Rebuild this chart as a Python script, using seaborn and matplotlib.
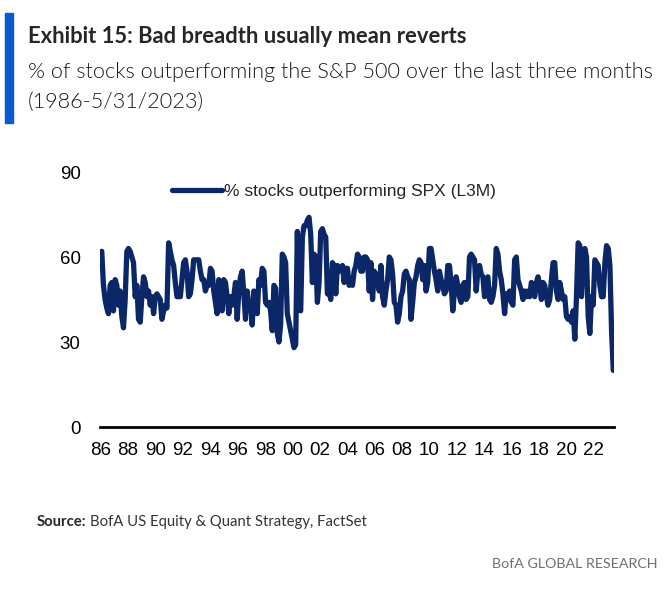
import matplotlib
matplotlib.use("Agg")
import matplotlib.pyplot as plt
import pandas as pd
import seaborn as sns
from matplotlib.patches import Rectangle

# % of stocks outperforming SPX over last 3 months (~every 1.5 months)
pct_outperforming = [
    62, 50, 45, 42, 40, 50, 51, 41, 52, 50,
    43, 48, 39, 35, 45, 62, 63, 62, 60, 58,
    46, 50, 38, 37, 46, 53, 51, 46, 48, 43,
    46, 40, 46, 47, 46, 45, 38, 41, 43, 42,
    65, 62, 59, 57, 51, 46, 46, 46, 52, 58,
    59, 55, 46, 47, 52, 59, 59, 59, 59, 55,
    52, 52, 48, 50, 50, 56, 55, 48, 44, 40,
    52, 48, 41, 52, 51, 46, 40, 46, 43,
    46, 51, 38, 48, 53, 55, 47, 38, 48, 43,
    44, 36, 48, 44, 40, 52, 50, 56, 55, 44,
    43, 44, 41, 34, 50, 49, 33, 30, 36, 61,
    60, 58, 40, 37, 34, 31, 28, 29, 69, 43,
    41, 67, 71, 71, 73, 74, 68, 51, 61, 60,
    44, 51, 69, 70, 68, 67, 47, 48, 45, 58,
    57, 47, 57, 55, 56, 57, 51, 56, 56, 50,
    51, 50, 55, 57, 61, 60, 55, 55,
    60, 60, 59, 48, 58, 45, 55, 54, 52, 48,
    57, 46, 43, 48, 52, 60, 59, 54, 44, 43,
    37, 40, 46, 48, 54, 55, 53, 52, 38, 44,
    51, 53, 57, 59, 58, 52, 57, 48, 51, 63,
    63, 59, 55, 52, 48, 55, 52, 50, 47, 48,
    57, 57, 51, 41, 48, 53, 50, 46, 44, 50,
    51, 45, 46, 60, 61, 60, 59, 48, 55, 57,
    54, 53, 46, 52, 53, 45, 44, 46,
    50, 63, 61, 55, 52, 47, 40, 47, 45, 48,
    44, 43, 59, 60, 52, 50, 48, 45, 48, 46,
    48, 46, 51, 50, 46, 51, 53, 50, 45, 51,
    50, 46, 43, 45, 52, 58, 58, 48, 45, 51,
    48, 45, 46, 39, 38, 39, 37, 41, 31, 46,
    65, 64, 46, 58, 63, 60, 39, 33, 46, 43,
    59, 58, 57, 50, 46, 46, 58, 64, 63, 57,
    34, 20,
]
series_label = "% stocks outperforming SPX (L3M)"
start_date = "1986-01-31"
end_date = "2023-05-31"
tick_years = pd.date_range("1986-01-01", "2022-01-01", freq="2YS")
y_ticks = [0, 30, 60, 90]

df = pd.DataFrame({
    "date": pd.date_range(start_date, end_date, periods=len(pct_outperforming)),
    "pct": pct_outperforming,
})

sns.set_style("white")
plt.rcParams["font.family"] = ["Liberation Sans", "DejaVu Sans"]

W, H = 665, 590
fig = plt.figure(figsize=(W / 100, H / 100), dpi=100)
ax = fig.add_axes([100 / W, 1 - 427 / H, 514 / W, 255 / H])

navy = "#0b2767"
sns.lineplot(data=df, x="date", y="pct", ax=ax, color=navy, linewidth=3.8,
             label=series_label)

ax.set_ylim(0, 90)
ax.set_yticks(y_ticks)
ax.set_xlim(pd.Timestamp("1985-12-15"), pd.Timestamp("2023-06-20"))
ax.set_xticks(tick_years)
ax.set_xticklabels([d.strftime("%y") for d in tick_years])
ax.set_xlabel("")
ax.set_ylabel("")
for side in ["top", "right", "left"]:
    ax.spines[side].set_visible(False)
ax.spines["bottom"].set_linewidth(2)
ax.spines["bottom"].set_color("black")
ax.tick_params(axis="both", length=0, labelsize=13.5, colors="black")
ax.tick_params(axis="x", pad=11)
ax.tick_params(axis="y", pad=14)

leg = ax.legend(loc="center", bbox_to_anchor=(0.455, 0.925), frameon=False,
                fontsize=12.5, handlelength=2.9, handletextpad=0.1)

# header
head_font = ["Lato", "DejaVu Sans"]
fig.patches.append(Rectangle((5 / W, 1 - 123 / H), 8 / W, 110 / H,
                             transform=fig.transFigure, color="#0a5bd3"))
fig.text(28 / W, 1 - 43 / H, "Exhibit 15: Bad breadth usually mean reverts",
         fontsize=15.8, fontweight="bold", family=head_font,
         va="baseline", ha="left")
fig.text(28 / W, 1 - 78 / H, "% of stocks outperforming the S&P 500 over the last three months",
         fontsize=15.6, fontweight=300, family=head_font,
         va="baseline", ha="left", color="#1a1a1a")
fig.text(28 / W, 1 - 108 / H, "(1986-5/31/2023)",
         fontsize=15.6, fontweight=300, family=head_font,
         va="baseline", ha="left", color="#1a1a1a")

# footer
src = fig.text(37 / W, 1 - 526 / H, "Source:", fontsize=10.7, fontweight="bold",
               family=head_font, va="baseline", ha="left")
fig.canvas.draw()
bb = src.get_window_extent(renderer=fig.canvas.get_renderer())
fig.text((bb.x1 + 3) / W, 1 - 526 / H, "BofA US Equity & Quant Strategy, FactSet",
         fontsize=10.7, family=head_font, va="baseline", ha="left",
         color="#333333")
fig.text(657 / W, 1 - 568 / H, "BofA GLOBAL RESEARCH", fontsize=10.3,
         family=head_font, va="baseline", ha="right", color="#707070")

fig.savefig("out.png", dpi=100)
